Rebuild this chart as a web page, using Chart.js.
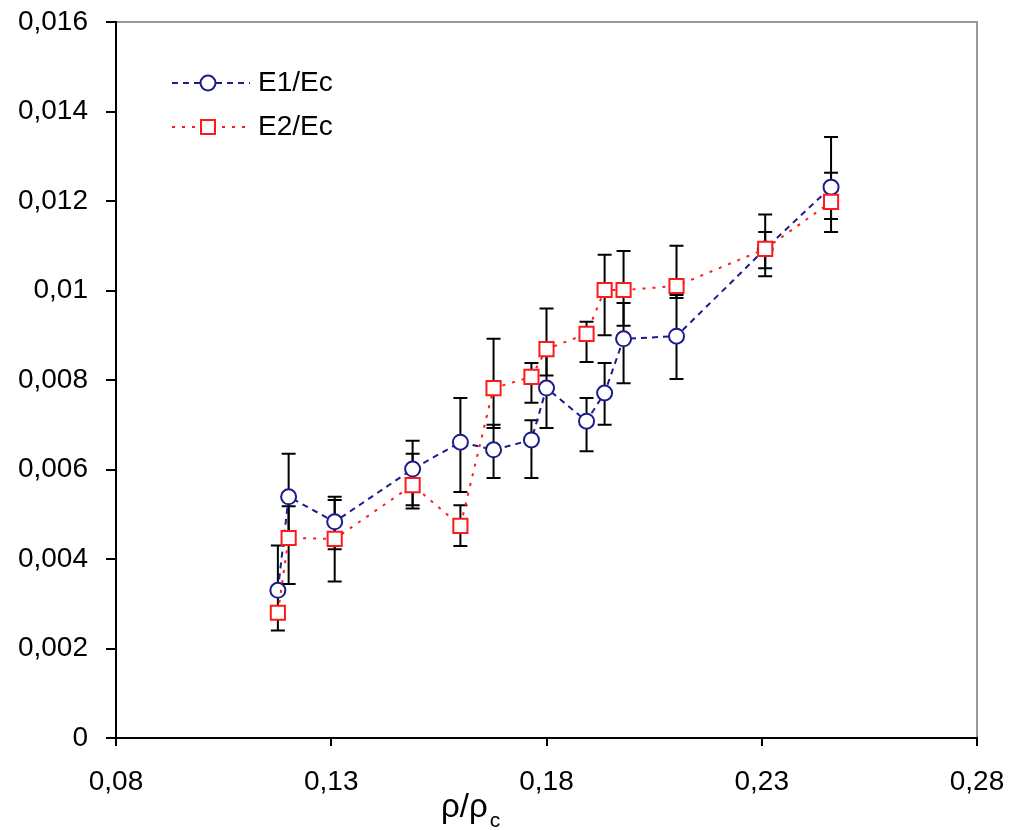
<!DOCTYPE html>
<html lang="en">
<head>
    <meta charset="UTF-8">
    <title>E/Ec vs rho/rhoc</title>
    <script src="https://cdn.jsdelivr.net/npm/chart.js"></script>
</head>
<style>
    body {
        margin: 0;
        padding: 0;
        background-color: #ffffff;
    }
    .wrap {
        width: 1010px;
        height: 830px;
    }
</style>
<body>
    <div class="wrap">
        <canvas id="chart" width="1010" height="830"></canvas>
    </div>

    <script>
        // values
        const xVals  = [0.1176, 0.1201, 0.1308, 0.1489, 0.160, 0.1677, 0.1765, 0.180, 0.1893, 0.1935, 0.1979, 0.2102, 0.2308, 0.2461];
        const e1     = [0.0033, 0.00539, 0.00483, 0.00601, 0.00661, 0.00644, 0.00666, 0.00782, 0.00708, 0.00771, 0.00892, 0.00898, 0.01093, 0.01231];
        const e2     = [0.0028, 0.00447, 0.00445, 0.00565, 0.00474, 0.00782, 0.00807, 0.00869, 0.00903, 0.01001, 0.01001, 0.0101, 0.01093, 0.01198];
        const e1Low  = [0.0024, 0.00458, 0.00422, 0.00513, 0.0055, 0.00581, 0.00581, 0.00693, 0.00641, 0.0070, 0.00793, 0.00802, 0.01032, 0.0116];
        const e1High = [0.0043, 0.00635, 0.00539, 0.00664, 0.0076, 0.0070, 0.0071, 0.00876, 0.0076, 0.00838, 0.00972, 0.0099, 0.01131, 0.01343];
        const e2Low  = [0.0027, 0.00344, 0.0035, 0.0052, 0.00429, 0.00693, 0.00749, 0.0081, 0.0084, 0.009, 0.00921, 0.00983, 0.0105, 0.01131];
        const e2High = [0.0029, 0.00518, 0.00532, 0.00635, 0.0052, 0.00892, 0.00838, 0.0096, 0.0093, 0.0108, 0.01088, 0.0110, 0.0117, 0.01263];

        const seriesNames = ['E1/Ec', 'E2/Ec'];
        const xTitle = 'ρ/ρ';
        const xTitleSub = 'c';

        const blue = '#1c1c8c';
        const red = '#ff1a1a';
        const font = "'Liberation Sans', Arial, sans-serif";

        const fmt = v => Number(v.toFixed(4)).toString().replace('.', ',');

        // error bars go under the markers
        const errorBars = {
            id: 'errorBars',
            beforeDatasetsDraw(chart) {
                const { ctx, scales: { x, y } } = chart;
                ctx.save();
                ctx.strokeStyle = '#000';
                ctx.lineWidth = 2;
                [[e1Low, e1High], [e2Low, e2High]].forEach(([lo, hi]) => {
                    xVals.forEach((v, i) => {
                        const px = x.getPixelForValue(v);
                        const top = y.getPixelForValue(hi[i]);
                        const bot = y.getPixelForValue(lo[i]);
                        ctx.beginPath();
                        ctx.moveTo(px, top); ctx.lineTo(px, bot);
                        ctx.moveTo(px - 7, top); ctx.lineTo(px + 7, top);
                        ctx.moveTo(px - 7, bot); ctx.lineTo(px + 7, bot);
                        ctx.stroke();
                    });
                });
                ctx.restore();
            }
        };

        // grey frame on top/right, legend inside plot, axis title with subscript
        const extras = {
            id: 'extras',
            beforeDraw(chart) {
                const { ctx, chartArea: a } = chart;
                ctx.save();
                ctx.strokeStyle = '#999';
                ctx.lineWidth = 2;
                ctx.beginPath();
                ctx.moveTo(a.left, a.top);
                ctx.lineTo(a.right, a.top);
                ctx.lineTo(a.right, a.bottom);
                ctx.stroke();
                ctx.restore();
            },
            afterDraw(chart) {
                const { ctx } = chart;
                ctx.save();
                const rows = [
                    { y: 83, color: blue, dash: [6, 5], shape: 'circle', label: seriesNames[0] },
                    { y: 127, color: red, dash: [3, 7], shape: 'square', label: seriesNames[1] }
                ];
                rows.forEach(r => {
                    ctx.strokeStyle = r.color;
                    ctx.lineWidth = 2;
                    ctx.setLineDash(r.dash);
                    ctx.beginPath();
                    ctx.moveTo(172, r.y); ctx.lineTo(250, r.y);
                    ctx.stroke();
                    ctx.setLineDash([]);
                    ctx.fillStyle = '#fff';
                    ctx.beginPath();
                    if (r.shape === 'circle') ctx.arc(208, r.y, 7.5, 0, Math.PI * 2);
                    else ctx.rect(201, r.y - 7, 14, 14);
                    ctx.fill();
                    ctx.stroke();
                    ctx.fillStyle = '#000';
                    ctx.font = '28px ' + font;
                    ctx.textBaseline = 'middle';
                    ctx.fillText(r.label, 258, r.y);
                });
                ctx.fillStyle = '#000';
                ctx.textBaseline = 'alphabetic';
                ctx.font = '33px ' + font;
                ctx.fillText(xTitle, 441, 817);
                const w = ctx.measureText(xTitle).width;
                ctx.font = '21px ' + font;
                ctx.fillText(xTitleSub, 441 + w + 2, 827);
                ctx.restore();
            }
        };

        const ctx = document.getElementById('chart').getContext('2d');
        const chart = new Chart(ctx, {
            type: 'scatter',
            data: {
                datasets: [{
                    label: seriesNames[0],
                    data: xVals.map((v, i) => ({ x: v, y: e1[i] })),
                    showLine: true,
                    borderColor: blue,
                    borderWidth: 2,
                    borderDash: [6, 5],
                    pointStyle: 'circle',
                    pointRadius: 7.5,
                    pointBorderWidth: 2,
                    pointBorderColor: blue,
                    pointBackgroundColor: '#fff',
                    order: 1
                }, {
                    label: seriesNames[1],
                    data: xVals.map((v, i) => ({ x: v, y: e2[i] })),
                    showLine: true,
                    borderColor: red,
                    borderWidth: 2,
                    borderDash: [3, 7],
                    pointStyle: 'rect',
                    pointRadius: 10,
                    pointBorderWidth: 2,
                    pointBorderColor: red,
                    pointBackgroundColor: '#fff',
                    order: 0
                }]
            },
            options: {
                responsive: false,
                animation: false,
                layout: { padding: { top: 22, right: 33, left: 0, bottom: 0 } },
                plugins: {
                    legend: { display: false },
                    tooltip: { enabled: false }
                },
                scales: {
                    x: {
                        type: 'linear',
                        min: 0.08,
                        max: 0.28,
                        afterBuildTicks: s => { s.ticks = [0.08, 0.13, 0.18, 0.23, 0.28].map(v => ({ value: v })); },
                        afterFit: s => { s.height = 92; s.paddingLeft = 0; s.paddingRight = 0; },
                        grid: { drawOnChartArea: false, color: '#000', tickLength: 8, lineWidth: 2 },
                        border: { color: '#000', width: 2 },
                        ticks: {
                            color: '#000',
                            padding: 19,
                            maxRotation: 0,
                            font: { family: font, size: 28 },
                            callback: v => fmt(v)
                        }
                    },
                    y: {
                        min: 0,
                        max: 0.016,
                        afterFit: s => { s.width = 116; s.paddingTop = 0; s.paddingBottom = 0; },
                        grid: { drawOnChartArea: false, color: '#000', tickLength: 10, lineWidth: 2 },
                        border: { color: '#000', width: 2 },
                        ticks: {
                            stepSize: 0.002,
                            color: '#000',
                            padding: 18,
                            font: { family: font, size: 28 },
                            callback: v => fmt(v)
                        }
                    }
                }
            },
            plugins: [errorBars, extras]
        });
    </script>
</body>
</html>
